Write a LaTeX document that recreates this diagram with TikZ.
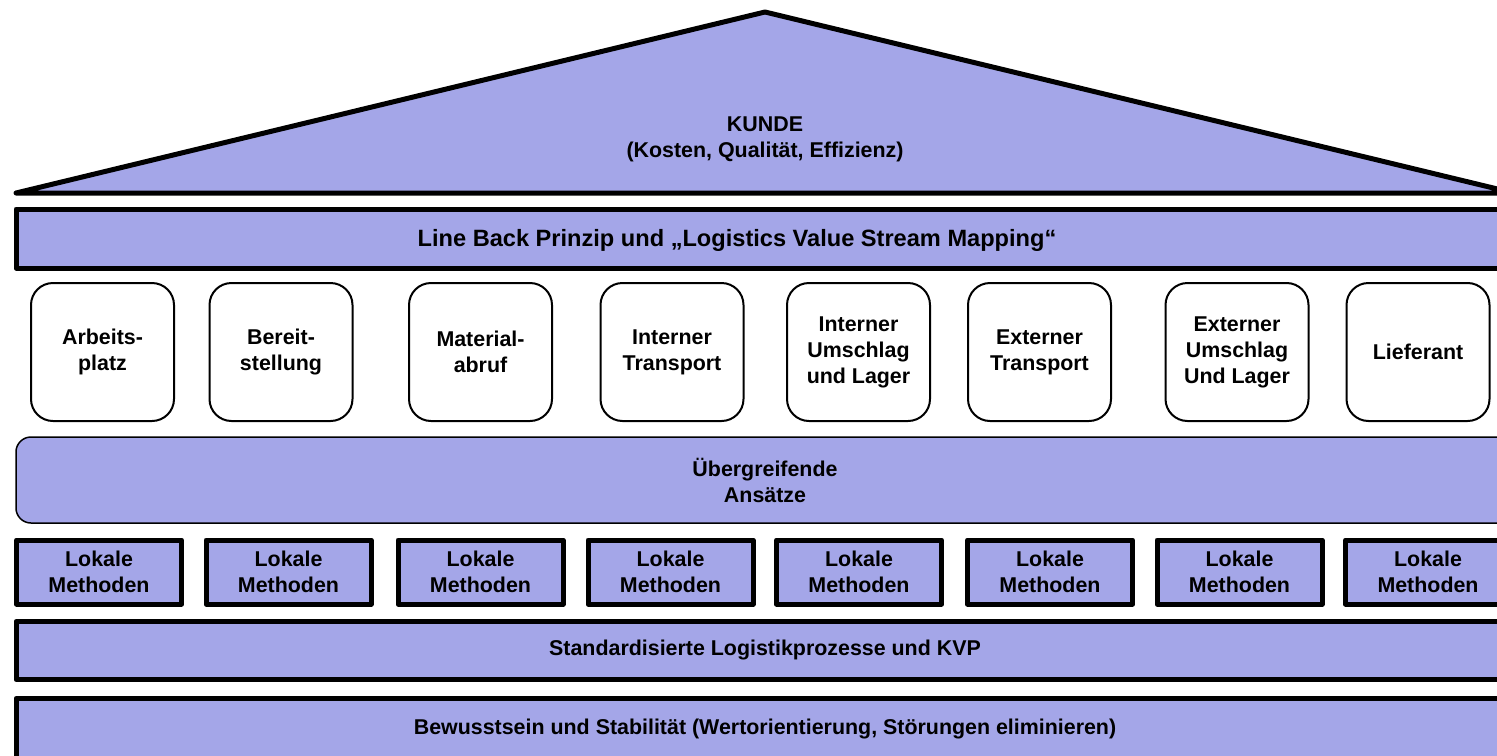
\documentclass[tikz,border=0pt]{standalone}
\usepackage{fontspec}
\setmainfont{Liberation Sans}
\definecolor{house}{RGB}{164,166,232}
\begin{document}
\begin{tikzpicture}[x=0.5pt, y=-0.5pt, line join=round, font=\fontsize{10.7}{13}\selectfont\bfseries,
	bar/.style={draw, line width=2.5pt, fill=house, inner sep=0pt, minimum width=749pt, align=center},
	stage/.style={draw, line width=1pt, rounded corners=11pt, fill=white, inner sep=0pt, minimum width=71.5pt, minimum height=69pt, align=center},
	method/.style={draw, line width=2.5pt, fill=house, inner sep=0pt, minimum width=82.5pt, minimum height=32pt, align=center}]
	\useasboundingbox (0,0) rectangle (1497,755);
	\clip (0,0) rectangle (1497,755);
	% Dach
	\draw[line width=2.5pt, fill=house] (16,193) -- (765,12) -- (1514,193) -- cycle;
	\node[align=center] (kunde) at (765,139) {KUNDE\\(Kosten, Qualität, Effizienz)};
	% Balken
	\node[bar, minimum height=29.5pt] (lineback) at (765,238.5) {};
	\node[font=\fontsize{11.8}{13}\selectfont\bfseries] (linebacktext) at (737,240) {Line Back Prinzip und „Logistics Value Stream Mapping“};
	\foreach \x/\t [count=\i] in {102.5/{Arbeits-\\platz}, 281/{Bereit-\\stellung}, 480.5/{Material-\\abruf}, 672/{Interner\\Transport}, 858.5/{Interner\\Umschlag\\und Lager}, 1039.5/{Externer\\Transport}, 1237/{Externer\\Umschlag\\Und Lager}, 1418/{Lieferant}}
		\node[stage] (stage\i) at (\x,352) {\t};
	\node[bar, line width=0.75pt, rounded corners=7.5pt, minimum height=43pt] (ansaetze) at (765,480) {Übergreifende\\Ansätze};
	\foreach \x [count=\i] in {99,288.5,480.5,670.5,859,1050,1239.5,1428}
		\node[method] (method\i) at (\x,572) {Lokale\\Methoden};
	\node[bar, minimum height=29pt] (kvp) at (765,650.5) {Standardisierte Logistikprozesse und KVP};
	\node[bar, minimum height=30.5pt] (basis) at (765,729) {Bewusstsein und Stabilität (Wertorientierung, Störungen eliminieren)};
\end{tikzpicture}
\end{document}
